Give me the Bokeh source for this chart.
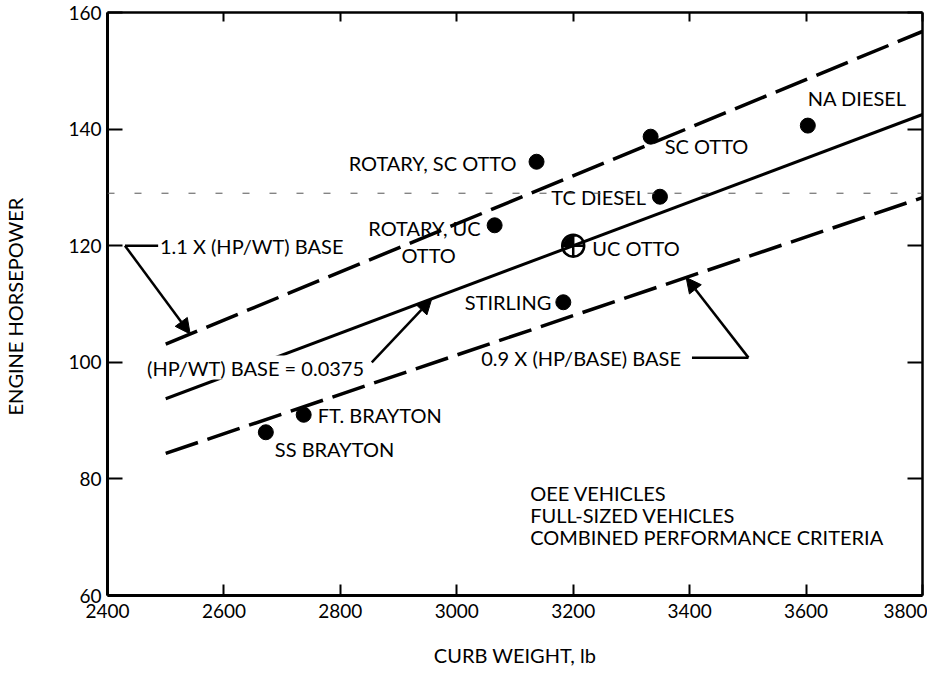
from bokeh.plotting import figure
from bokeh.models import (Range1d, FixedTicker, LinearAxis, Label, Arrow, NormalHead,
                          ColumnDataSource, Span)
from bokeh.core.properties import value
from bokeh.embed import file_html
from bokeh.resources import INLINE

FONT = "Lato"

# Engine / vehicle combinations: curb weight (lb) and engine horsepower
vehicle_names = ["SS BRAYTON", "FT. BRAYTON", "STIRLING", "ROTARY, UC",
                 "ROTARY, SC OTTO", "TC DIESEL", "SC OTTO", "NA DIESEL"]
curb_weight = [2672, 2737, 3183, 3065, 3137, 3349, 3333, 3603]
horsepower = [88.0, 91.0, 110.3, 123.5, 134.4, 128.4, 138.7, 140.6]

# Baseline vehicle (defines the HP/WT base ratio)
base_name = "UC OTTO"
base_weight = 3200
base_hp = 120

hp_per_wt = 0.0375            # (HP/WT) base
band_factors = [1.1, 1.0, 0.9]
band_weights = [2500, 3800]    # extent of the ratio lines

x_ticks = [2400, 2600, 2800, 3000, 3200, 3400, 3600, 3800]
y_ticks = [60, 80, 100, 120, 140, 160]

notes = ["OEE VEHICLES", "FULL-SIZED VEHICLES", "COMBINED PERFORMANCE CRITERIA"]

# ---------------------------------------------------------------- figure
p = figure(width=927, height=674, output_backend="svg", toolbar_location=None,
           x_range=Range1d(2400, 3800), y_range=Range1d(60, 160),
           min_border_left=102, min_border_right=5, min_border_top=12,
           min_border_bottom=79, background_fill_color="white",
           border_fill_color="white")
p.outline_line_color = None
p.grid.visible = False

label_size = "19px"
for ax in (p.xaxis[0], p.yaxis[0]):
    ax.axis_line_width = 3
    ax.axis_line_color = "black"
    ax.major_tick_out = 0
    ax.minor_tick_in = 0
    ax.minor_tick_out = 0
    ax.major_tick_line_width = 2
    ax.major_label_text_font = FONT
    ax.major_label_text_font_size = label_size
    ax.major_label_text_color = "black"
    ax.axis_label_text_font = FONT
    ax.axis_label_text_font_size = "20px"
    ax.axis_label_text_font_style = "normal"
    ax.axis_label_text_color = "black"

p.xaxis.ticker = FixedTicker(ticks=x_ticks)
p.yaxis.ticker = FixedTicker(ticks=y_ticks)
p.xaxis.major_tick_in = 11
p.yaxis.major_tick_in = 15
p.xaxis.major_label_standoff = 8
p.yaxis.major_label_standoff = 6
p.xaxis.axis_label = "CURB WEIGHT, lb"
p.yaxis.axis_label = "ENGINE  HORSEPOWER"
p.xaxis.axis_label_standoff = 22
p.yaxis.axis_label_standoff = 38

# frame on the top and right sides, ticks pointing inward, no labels
for side, ticks, tick_len in (("above", x_ticks, 9), ("right", y_ticks, 15)):
    ax = LinearAxis(ticker=FixedTicker(ticks=ticks))
    ax.axis_line_width = 2.5
    ax.major_tick_in = tick_len
    ax.major_tick_out = 0
    ax.major_tick_line_width = 2
    ax.minor_tick_in = 0
    ax.minor_tick_out = 0
    ax.major_label_overrides = {t: "" for t in ticks}
    ax.major_label_standoff = 0
    p.add_layout(ax, side)

# faint horizontal rule across the frame
p.add_layout(Span(location=129, dimension="width", line_color="#555555",
                  line_width=1, line_dash="7 20"))

# ---------------------------------------------------------------- ratio lines
for factor in band_factors:
    ys = [factor * hp_per_wt * w for w in band_weights]
    if factor == 1.0:
        p.line(band_weights, ys, line_color="black", line_width=3)
    else:
        p.line(band_weights, ys, line_color="black", line_width=3.5,
               line_dash="34 10")

# ---------------------------------------------------------------- data points
src = ColumnDataSource(dict(
    w=curb_weight, hp=horsepower, name=vehicle_names,
    dx=[9, 14, -12, -14, -20, -14, 14, 0],
    dy=[17, 0, 0, 3, 1, 0, 9, -28],
    align=["left", "left", "right", "right", "right", "right", "left", "left"],
))
p.scatter("w", "hp", source=src, size=15, color="black")
p.text("w", "hp", text="name", source=src, x_offset="dx", y_offset="dy",
       text_align="align", text_baseline="middle", text_font=value(FONT),
       text_font_size="20px", text_color="black")
# second line of the rotary UC label
p.text([curb_weight[3]], [horsepower[3]], text=["OTTO"], x_offset=-66, y_offset=30,
       text_align="center", text_baseline="middle", text_font=value(FONT),
       text_font_size="20px", text_color="black")

# baseline vehicle: quartered circle
p.wedge([base_weight], [base_hp], radius=10, radius_units="screen",
        start_angle=1.5708, end_angle=3.1416, color="black")
p.scatter([base_weight], [base_hp], marker="circle_cross", size=22,
          fill_color=None, line_color="black", line_width=2.5)
p.text([base_weight], [base_hp], text=[base_name], x_offset=19, y_offset=2,
       text_align="left", text_baseline="middle", text_font=value(FONT),
       text_font_size="20px", text_color="black")

# ---------------------------------------------------------------- callouts
def callout(x0, y0, x1, y1, head=True):
    end = NormalHead(size=15, fill_color="black", line_color="black") if head else None
    p.add_layout(Arrow(x_start=x0, y_start=y0, x_end=x1, y_end=y1, end=end,
                       line_width=2.5, line_color="black"))

def note(x, y, text, bg=None):
    p.add_layout(Label(x=x, y=y, text=text, text_font=FONT, text_font_size="20px",
                       text_baseline="middle", text_align="left", text_color="black",
                       background_fill_color=bg))

# upper band
upper_tip_w = 2542
callout(2430, 120, 2487, 120, head=False)
callout(2430, 120, upper_tip_w, band_factors[0] * hp_per_wt * upper_tip_w)
note(2490, 120, f"{band_factors[0]} X (HP/WT) BASE")

# base ratio
base_tip_w = 2957
note(2468, 99.1, f"(HP/WT) BASE = {hp_per_wt}", bg="white")
callout(2854, 100.0, base_tip_w, hp_per_wt * base_tip_w)

# lower band
lower_tip_w = 3394
note(3042, 100.8, f"{band_factors[2]} X (HP/BASE) BASE")
callout(3404, 100.8, 3501, 100.8, head=False)
callout(3501, 100.8, lower_tip_w, band_factors[2] * hp_per_wt * lower_tip_w)

for line_text, hp_pos in zip(notes, [77.5, 73.8, 70.1]):
    note(3126, hp_pos, line_text)

open("out.html", "w").write(file_html(p, INLINE))
